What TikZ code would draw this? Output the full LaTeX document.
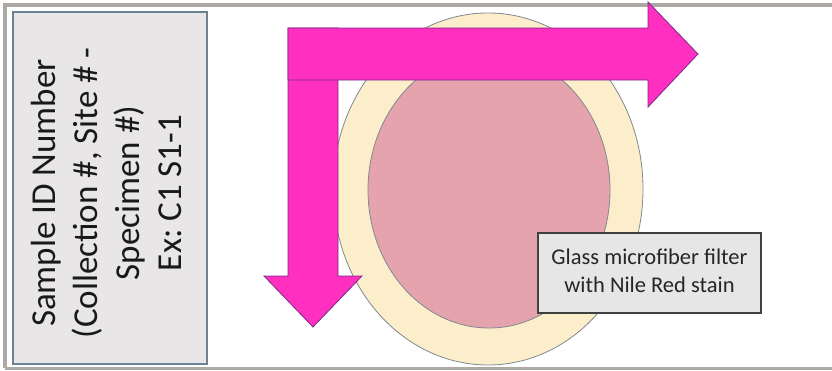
\documentclass[tikz,border=0pt]{standalone}
\usepackage{fontspec}
\setmainfont{Carlito}
\frenchspacing
\definecolor{framegray}{HTML}{ACA8A4}
\definecolor{boxfill}{HTML}{E8E6E6}
\definecolor{boxedge}{HTML}{6B8293}
\definecolor{arrowpink}{HTML}{FF2FC0}
\definecolor{arrowedge}{HTML}{7A2A8C}
\definecolor{creamfill}{HTML}{FDEECB}
\definecolor{filterpink}{HTML}{E5A3AE}
\definecolor{ellipseedge}{HTML}{7F8A90}
\definecolor{labelfill}{HTML}{E6E6E6}
\definecolor{labeledge}{HTML}{404040}
\tikzset{
  idbox/.style={draw=boxedge, line width=1.5pt, fill=boxfill},
  pinkarrow/.style={draw=arrowedge, line width=0.8pt, fill=arrowpink, line join=miter},
  filterdisc/.style={draw=ellipseedge, line width=0.8pt},
  labelbox/.style={draw=labeledge, line width=1.5pt, fill=labelfill, minimum width=223pt, minimum height=80pt, inner sep=0pt, font=\fontsize{22.5}{28}\selectfont, text=black!85}
}
\begin{document}
\begin{tikzpicture}[x=1pt,y=-1pt]
\useasboundingbox (0,0) rectangle (832,370);
\fill[white] (0,0) rectangle (832,370);
% outer frame
\draw[framegray, line width=4pt] (5,368) -- (5,4.5) -- (832,4.5);
\draw[framegray, line width=3pt] (5,368.5) -- (832,368.5);
% sample id box
\draw[idbox] (13,12) rectangle (207,364);
\node[rotate=90, inner sep=0pt, font=\fontsize{35}{42}\selectfont, text=black!90] (idtext) at (110,193)
  {\begin{tabular}{@{}c@{}}Sample ID Number\\(Collection \#, Site \# -\\Specimen \#)\\Ex: C1 S1-1\end{tabular}};
% filter ellipses
\draw[filterdisc, fill=creamfill] (488,189) ellipse [x radius=155, y radius=176];
\draw[filterdisc, fill=filterpink] (489,190) ellipse [x radius=121, y radius=138];
% down arrow
\draw[pinkarrow] (288,28) -- (338,28) -- (338,276) -- (362,276) -- (313,327) -- (264,276) -- (288,276) -- cycle;
% right arrow
\draw[pinkarrow] (288,28) -- (648,28) -- (648,2) -- (698,54) -- (648,107) -- (648,80) -- (288,80) -- cycle;
% label
\node[labelbox] (label) at (649.5,273) {\begin{tabular}{@{}c@{}}Glass microfiber filter\\with Nile Red stain\end{tabular}};
\end{tikzpicture}
\end{document}
